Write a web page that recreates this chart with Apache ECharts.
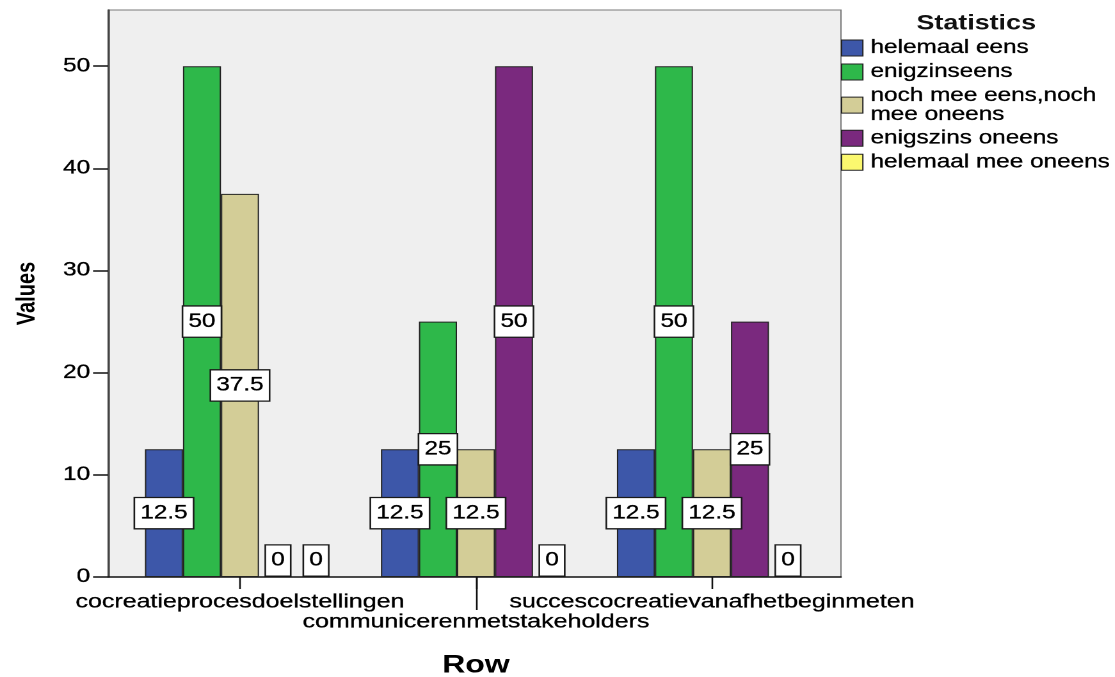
<!DOCTYPE html>
<html>
<head>
<meta charset="utf-8">
<script src="https://cdn.jsdelivr.net/npm/echarts@6/dist/echarts.min.js"></script>
<style>
html,body{margin:0;padding:0;background:#fff;overflow:hidden;}
#wrap{width:1115px;height:677px;overflow:hidden;}
#chart{width:871px;height:677px;transform:scaleX(1.28);transform-origin:0 0;}
</style>
</head>
<body>
<div id="wrap"><div id="chart"></div></div>
<script>
// ---- data ----
const categories = ['cocreatieprocesdoelstellingen', 'communicerenmetstakeholders', 'succescocreatievanafhetbeginmeten'];
const seriesNames = ['helemaal eens', 'enigzinseens', 'noch mee eens,noch\nmee oneens', 'enigszins oneens', 'helemaal mee oneens'];
const helemaalEens = [12.5, 12.5, 12.5];
const enigzinsEens = [50, 25, 50];
const nochNoch = [37.5, 12.5, 12.5];
const enigszinsOneens = [0, 50, 25];
const helemaalMeeOneens = [0, 0, 0];
const yTicks = [0, 10, 20, 30, 40, 50];
const seriesColors = ['#3d57a9', '#2eb84a', '#d3cd97', '#7a297e', '#fbf86f'];

const FONT = '"Liberation Sans", Arial, sans-serif';
const allValues = [helemaalEens, enigzinsEens, nochNoch, enigszinsOneens, helemaalMeeOneens];

const labelBase = {
  show: true,
  position: 'inside',
  fontFamily: FONT,
  fontSize: 19,
  lineHeight: 20,
  color: '#000',
  textBorderColor: '#000',
  textBorderWidth: 0.3,
  backgroundColor: '#fff',
  borderColor: '#1a1a1a',
  borderWidth: 1.3,
  padding: [5, 4, 5, 4]
};

const series = allValues.map((vals, k) => ({
  name: seriesNames[k],
  type: 'bar',
  xAxisIndex: 1,
  yAxisIndex: 1,
  barWidth: 29.7,
  barGap: '0%',
  itemStyle: { color: seriesColors[k], borderColor: '#222', borderWidth: 1 },
  label: labelBase,
  data: vals.map(v => v === 0
    ? { value: v, itemStyle: { borderWidth: 0 }, label: { position: 'top', distance: 1.5 } }
    : v)
}));

const legendData = seriesNames.map(n => n.indexOf('\n') >= 0
  ? { name: n, textStyle: { lineHeight: 19 } }
  : { name: n });

const chart = echarts.init(document.getElementById('chart'), null, { renderer: 'canvas', devicePixelRatio: 2 });
chart.setOption({
  animation: false,
  backgroundColor: '#fff',
  textStyle: { fontFamily: FONT },
  title: {
    text: 'Statistics',
    left: 716,
    top: 13,
    padding: 0,
    textStyle: { fontFamily: FONT, fontSize: 21, fontWeight: 'bold', color: '#111' }
  },
  legend: {
    orient: 'vertical',
    left: 657,
    top: 38,
    padding: 0,
    itemWidth: 16.6,
    itemHeight: 16,
    itemGap: 4,
    icon: 'rect',
    itemStyle: { borderColor: '#222', borderWidth: 1 },
    textStyle: { fontFamily: FONT, fontSize: 19, lineHeight: 20, color: '#000', textBorderColor: '#000', textBorderWidth: 0.3, padding: [0, 0, 0, 1] },
    data: legendData
  },
  grid: [
    { left: 84.4, right: 214, top: 10, bottom: 100, outerBoundsMode: 'none', containLabel: false, show: true, backgroundColor: '#efefef', borderColor: '#7a7a7a', borderWidth: 1 },
    { left: 95.3, right: 222.6, top: 10, bottom: 100, outerBoundsMode: 'none', containLabel: false }
  ],
  xAxis: [
    {
      gridIndex: 0, type: 'value', min: 0, max: 1, position: 'bottom',
      axisLine: { show: true, lineStyle: { color: '#111', width: 1.5 } },
      axisTick: { show: false }, axisLabel: { show: false }, splitLine: { show: false }
    },
    {
      gridIndex: 1, type: 'category', data: categories, position: 'bottom',
      axisLine: { show: false },
      axisTick: { show: true, alignWithLabel: true, length: 12, lineStyle: { color: '#111', width: 1.3 } },
      axisLabel: {
        margin: 15, fontFamily: FONT, fontSize: 19.5, lineHeight: 20, color: '#000',
        textBorderColor: '#000', textBorderWidth: 0.3,
        interval: 0,
        formatter: (v, i) => (i % 2 === 1 ? '\n' + v : v)
      },
      name: 'Row', nameLocation: 'middle', nameGap: 76,
      nameTextStyle: { fontFamily: FONT, fontSize: 25, fontWeight: 'bold', color: '#000' },
      splitLine: { show: false }
    },
    {
      gridIndex: 1, type: 'category', data: categories, position: 'bottom', offset: 0,
      axisLine: { show: false },
      axisTick: { show: true, alignWithLabel: true, length: 33, interval: (i) => i === 1, lineStyle: { color: '#111', width: 1.3 } },
      axisLabel: { show: false },
      splitLine: { show: false }
    }
  ],
  yAxis: [
    {
      gridIndex: 0, type: 'value', min: 0, max: 55.5, interval: 10,
      axisLine: { show: true, lineStyle: { color: '#444', width: 1.6 } },
      axisTick: { show: true, length: 11.7, customValues: yTicks, lineStyle: { color: '#111', width: 1.5 } },
      axisLabel: { customValues: yTicks, margin: 14, fontFamily: FONT, fontSize: 19, color: '#000', textBorderColor: '#000', textBorderWidth: 0.3 },
      splitLine: { show: false },
      name: 'Values', nameLocation: 'middle', nameGap: 53,
      nameTextStyle: { fontFamily: FONT, fontSize: 20, fontWeight: 'bold', color: '#000' }
    },
    { gridIndex: 1, type: 'value', min: 0, max: 55.5, show: false, splitLine: { show: false } }
  ],
  series: series
});
</script>
</body>
</html>
